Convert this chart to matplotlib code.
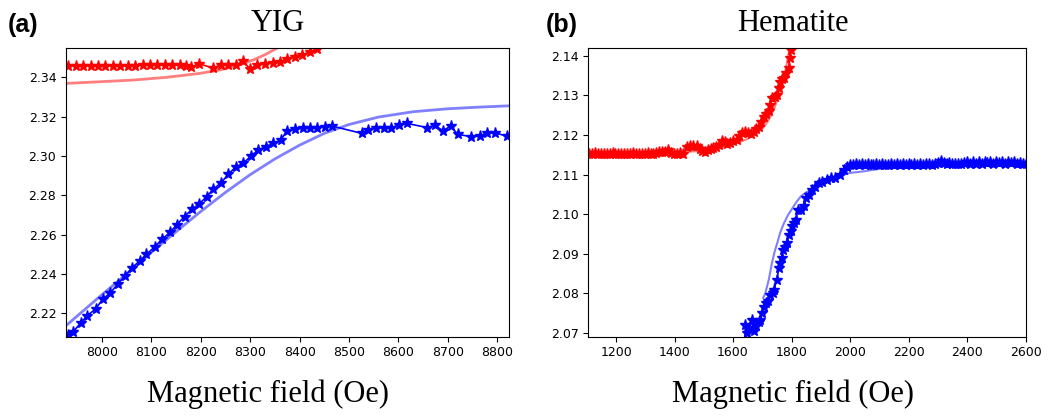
import numpy as np
import matplotlib.pyplot as plt

# ---- YIG (panel a) ----
yig_red_x = [7932, 7947, 7962, 7977, 7992, 8007, 8022, 8037, 8052, 8067, 8082, 8097,
             8112, 8127, 8142, 8157, 8170, 8180, 8196, 8225, 8240, 8255, 8271, 8285,
             8300, 8313, 8330, 8346, 8360, 8374, 8390, 8404, 8421, 8435]
yig_red_y = [2.3459, 2.3459, 2.3459, 2.3459, 2.3459, 2.3459, 2.3459, 2.3459, 2.3460, 2.3460,
             2.3462, 2.3462, 2.3462, 2.3462, 2.3462, 2.3461, 2.3459, 2.3450, 2.3470, 2.3446,
             2.3462, 2.3462, 2.3462, 2.3483, 2.3442, 2.3463, 2.3470, 2.3475, 2.3480, 2.3493,
             2.3503, 2.3513, 2.3530, 2.3544]

yig_blue_x = [7932, 7942, 7957, 7970, 7987, 8001, 8016, 8032, 8047, 8061, 8076, 8090,
              8107, 8122, 8138, 8151, 8167, 8182, 8196, 8212, 8225, 8241, 8256, 8271,
              8286, 8301, 8316, 8331, 8347, 8362, 8374, 8391, 8406, 8421, 8436, 8451,
              8466, 8526, 8539, 8555, 8571, 8586, 8601, 8617, 8659, 8674, 8690, 8706,
              8720, 8748, 8765, 8780, 8796, 8819]
yig_blue_y = [2.2090, 2.2107, 2.2152, 2.2188, 2.2222, 2.2271, 2.2302, 2.2349, 2.2392, 2.2432,
              2.2466, 2.2500, 2.2539, 2.2578, 2.2612, 2.2650, 2.2692, 2.2729, 2.2755, 2.2793,
              2.2830, 2.2864, 2.2908, 2.2945, 2.2962, 2.2999, 2.3030, 2.3047, 2.3064, 2.3081,
              2.3127, 2.3137, 2.3141, 2.3141, 2.3144, 2.3149, 2.3152, 2.3115, 2.3132, 2.3144,
              2.3144, 2.3144, 2.3157, 2.3166, 2.3144, 2.3157, 2.3128, 2.3152, 2.3110, 2.3098,
              2.3101, 2.3118, 2.3118, 2.3101]

yig_fit_red_x = [7927, 8000, 8063, 8131, 8198, 8240, 8265, 8290, 8306, 8330, 8354, 8375]
yig_fit_red_y = [2.3369, 2.3378, 2.3386, 2.3400, 2.3420, 2.3438, 2.3454, 2.3474, 2.3488,
                 2.3515, 2.3548, 2.3580]

yig_fit_blue_x = [7927, 8000, 8050, 8100, 8150, 8200, 8250, 8300, 8350, 8400, 8450, 8500,
                  8560, 8630, 8700, 8760, 8824]
yig_fit_blue_y = [2.2137, 2.2295, 2.2400, 2.2510, 2.2615, 2.2718, 2.2815, 2.2905, 2.2985,
                  2.3055, 2.3115, 2.3160, 2.3198, 2.3225, 2.3240, 2.3248, 2.3255]

# ---- Hematite (panel b) ----
hem_red_x = [1108, 1118, 1128, 1138, 1148, 1158, 1168, 1178, 1188, 1198, 1208, 1218, 1228,
             1238, 1248, 1258, 1268, 1278, 1288, 1298, 1308, 1318, 1328, 1338, 1348, 1358,
             1368, 1379, 1389, 1399, 1409, 1419, 1430, 1442, 1452, 1462, 1476, 1486, 1495,
             1505, 1515, 1525, 1533, 1543, 1552, 1562, 1571, 1580, 1590, 1600, 1613, 1622,
             1632, 1642, 1652, 1662, 1671, 1680, 1688, 1697, 1705, 1713, 1722, 1728, 1734,
             1742, 1751, 1757, 1762, 1768, 1775, 1782, 1790, 1794, 1798, 1803]
hem_red_y = [2.1152, 2.1152, 2.1153, 2.1152, 2.1152, 2.1151, 2.1152, 2.1152, 2.1153, 2.1152,
             2.1152, 2.1152, 2.1151, 2.1152, 2.1152, 2.1153, 2.1152, 2.1152, 2.1152, 2.1152,
             2.1153, 2.1152, 2.1152, 2.1155, 2.1157, 2.1157, 2.1158, 2.1161, 2.1154, 2.1152,
             2.1152, 2.1153, 2.1152, 2.1170, 2.1172, 2.1172, 2.1171, 2.1165, 2.1160, 2.1158,
             2.1162, 2.1165, 2.1168, 2.1170, 2.1174, 2.1185, 2.1182, 2.1178, 2.1180, 2.1184,
             2.1188, 2.1196, 2.1205, 2.1208, 2.1204, 2.1202, 2.1206, 2.1214, 2.1221, 2.1232,
             2.1246, 2.1252, 2.1259, 2.1275, 2.1293, 2.1296, 2.1300, 2.1318, 2.1334, 2.1340,
             2.1343, 2.1355, 2.1368, 2.1395, 2.1414, 2.1440]

hem_blue_x = [1640, 1642, 1648, 1655, 1665, 1672, 1680, 1688, 1693, 1700, 1705, 1712, 1719,
              1728, 1735, 1740, 1749, 1757, 1762, 1766, 1771, 1777, 1783, 1791, 1797, 1803,
              1808, 1814, 1822, 1832, 1842, 1850, 1859, 1870, 1880, 1893, 1905, 1922, 1935,
              1950, 1965, 1980, 1990, 2000, 2010, 2020, 2030, 2040, 2050, 2060, 2070, 2080,
              2090, 2100, 2110, 2120, 2130, 2140, 2150, 2160, 2170, 2180, 2190, 2200, 2210,
              2220, 2230, 2240, 2250, 2260, 2270, 2280, 2290, 2300, 2310, 2320, 2330, 2340,
              2350, 2360, 2370, 2380, 2390, 2400, 2410, 2420, 2430, 2440, 2450, 2460, 2470,
              2480, 2490, 2500, 2510, 2520, 2530, 2540, 2550, 2560, 2570, 2580, 2590, 2600]
hem_blue_y = [2.0680, 2.0721, 2.0700, 2.0712, 2.0733, 2.0705, 2.0718, 2.0728, 2.0733, 2.0752,
              2.0767, 2.0775, 2.0780, 2.0795, 2.0802, 2.0809, 2.0834, 2.0864, 2.0877, 2.0890,
              2.0910, 2.0918, 2.0927, 2.0948, 2.0958, 2.0969, 2.0978, 2.0986, 2.1011, 2.1010,
              2.1020, 2.1040, 2.1049, 2.1061, 2.1068, 2.1078, 2.1082, 2.1086, 2.1090, 2.1092,
              2.1100, 2.1112, 2.1120, 2.1124, 2.1125, 2.1126, 2.1125, 2.1126, 2.1125, 2.1126,
              2.1125, 2.1125, 2.1126, 2.1125, 2.1126, 2.1125, 2.1125, 2.1126, 2.1125, 2.1126,
              2.1125, 2.1126, 2.1125, 2.1126, 2.1125, 2.1126, 2.1125, 2.1126, 2.1125, 2.1127,
              2.1126, 2.1125, 2.1127, 2.1128, 2.1134, 2.1130, 2.1126, 2.1128, 2.1126, 2.1127,
              2.1126, 2.1127, 2.1128, 2.1132, 2.1127, 2.1131, 2.1127, 2.1132, 2.1127, 2.1131,
              2.1128, 2.1132, 2.1127, 2.1131, 2.1128, 2.1132, 2.1127, 2.1131, 2.1128, 2.1132,
              2.1127, 2.1128, 2.1127, 2.1127]

hem_fit_red_x = [1105, 1300, 1400, 1500, 1550, 1600, 1650, 1700, 1720, 1740, 1755, 1770,
                 1780, 1790, 1800]
hem_fit_red_y = [2.1152, 2.1153, 2.1155, 2.1160, 2.1165, 2.1175, 2.1190, 2.1215, 2.1235,
                 2.1265, 2.1295, 2.1335, 2.1365, 2.1405, 2.1450]

hem_fit_blue_x = [1703, 1710, 1722, 1733, 1742, 1751, 1762, 1774, 1788, 1803, 1818, 1832,
                  1850, 1866, 1890, 1920, 1960, 2000, 2036, 2100, 2173, 2287, 2400, 2600]
hem_fit_blue_y = [2.0789, 2.0800, 2.0834, 2.0877, 2.0905, 2.0927, 2.0955, 2.0977, 2.0998,
                  2.1015, 2.1032, 2.1045, 2.1055, 2.1061, 2.1072, 2.1082, 2.1095, 2.1104,
                  2.1107, 2.1114, 2.1118, 2.1121, 2.1122, 2.1123]

fig = plt.figure(figsize=(10.49, 4.16), dpi=100)
ax1 = fig.add_axes([0.0629, 0.1906, 0.4223, 0.694])
ax2 = fig.add_axes([0.5608, 0.1906, 0.4168, 0.694])

# panel a
ax1.plot(yig_fit_red_x, yig_fit_red_y, color="red", alpha=0.5, lw=2)
ax1.plot(yig_fit_blue_x, yig_fit_blue_y, color="blue", alpha=0.5, lw=2)
ax1.plot(yig_red_x, yig_red_y, color="red", marker="*", ms=8, lw=1.2)
ax1.plot(yig_blue_x, yig_blue_y, color="blue", marker="*", ms=8, lw=1.2)
ax1.set_xlim(7927, 8824)
ax1.set_ylim(2.2081, 2.3549)
ax1.set_xticks(np.arange(8000, 8801, 100))
ax1.set_yticks([2.22, 2.24, 2.26, 2.28, 2.30, 2.32, 2.34])

# panel b
ax2.plot(hem_fit_red_x, hem_fit_red_y, color="red", alpha=0.5, lw=1.5)
ax2.plot(hem_fit_blue_x, hem_fit_blue_y, color="blue", alpha=0.5, lw=1.5)
ax2.plot(hem_red_x, hem_red_y, color="red", marker="*", ms=8, lw=1.2)
ax2.plot(hem_blue_x, hem_blue_y, color="blue", marker="*", ms=8, lw=1.2)
ax2.set_xlim(1105, 2600)
ax2.set_ylim(2.0691, 2.1419)
ax2.set_xticks(np.arange(1200, 2601, 200))
ax2.set_yticks([2.07, 2.08, 2.09, 2.10, 2.11, 2.12, 2.13, 2.14])

for ax in (ax1, ax2):
    ax.tick_params(labelsize=9)
    ax.yaxis.set_major_formatter(plt.FormatStrFormatter("%.2f"))

serif = ["Liberation Serif", "DejaVu Serif"]
fig.text(278 / 1049, 1 - 31 / 416, "YIG", family=serif, fontsize=22, ha="center", va="baseline")
fig.text(793 / 1049, 1 - 31 / 416, "Hematite", family=serif, fontsize=22, ha="center", va="baseline")
fig.text(268 / 1049, 1 - 402 / 416, "Magnetic field (Oe)", family=serif, fontsize=22,
         ha="center", va="baseline")
fig.text(793 / 1049, 1 - 402 / 416, "Magnetic field (Oe)", family=serif, fontsize=22,
         ha="center", va="baseline")
fig.text(8 / 1049, 1 - 32 / 416, "(a)", family=["Liberation Sans", "DejaVu Sans"],
         fontweight="bold", fontsize=18, ha="left", va="baseline")
fig.text(546 / 1049, 1 - 32 / 416, "(b)", family=["Liberation Sans", "DejaVu Sans"],
         fontweight="bold", fontsize=18, ha="left", va="baseline")

fig.savefig("out.png", dpi=100)
